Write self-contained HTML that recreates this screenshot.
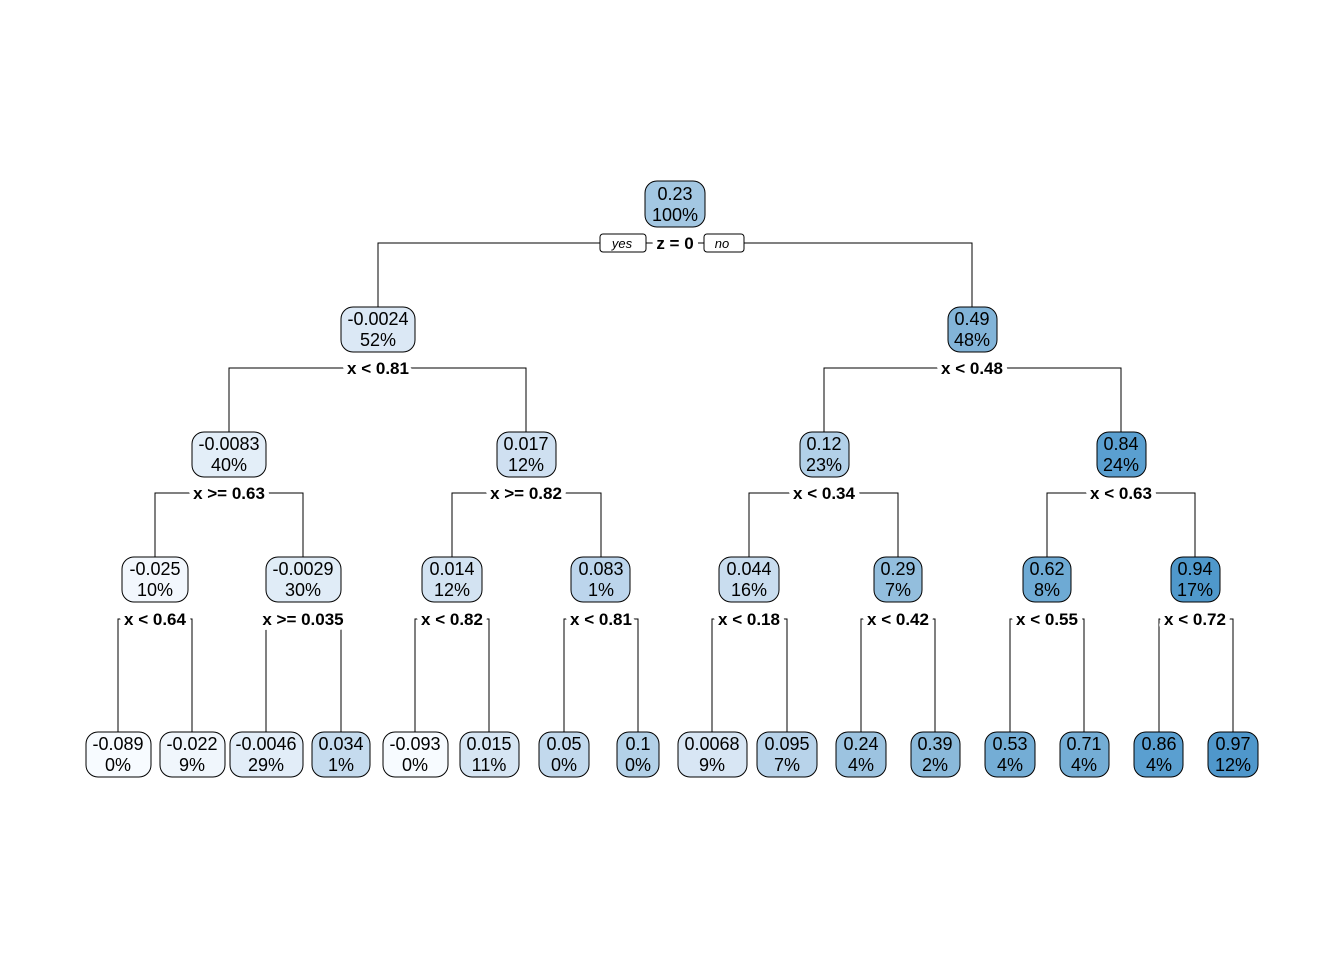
<!DOCTYPE html>
<html><head><meta charset="utf-8"><style>
html,body{margin:0;padding:0;background:#fff;}
svg{display:block;font-family:"Liberation Sans",Arial,sans-serif;}
.n{stroke:#000;stroke-width:1}
.t{font-size:18px;text-anchor:middle;fill:#000}
.s{font-size:17px;font-weight:bold;text-anchor:middle;fill:#000;stroke:#fff;stroke-width:10px;paint-order:stroke;stroke-linejoin:round}
.e{stroke:#000;stroke-width:1;fill:none}
</style></head><body>
<svg width="1344" height="960" viewBox="0 0 1344 960" xmlns="http://www.w3.org/2000/svg">
<g class="e">
<path d="M378 307V243H972V307"/>
<path d="M229 432V368H526V432"/>
<path d="M824 432V368H1121V432"/>
<path d="M155 557V493H303V557"/>
<path d="M452 557V493H601V557"/>
<path d="M749 557V493H898V557"/>
<path d="M1047 557V493H1195V557"/>
<path d="M118 732V619H192V732"/>
<path d="M266 732V619H341V732"/>
<path d="M415 732V619H489V732"/>
<path d="M564 732V619H638V732"/>
<path d="M712 732V619H787V732"/>
<path d="M861 732V619H935V732"/>
<path d="M1010 732V619H1084V732"/>
<path d="M1159 732V619H1233V732"/>
</g>
<text class="s" x="675" y="249">z = 0</text>
<text class="s" x="378" y="374">x &lt; 0.81</text>
<text class="s" x="972" y="374">x &lt; 0.48</text>
<text class="s" x="229" y="499">x &gt;= 0.63</text>
<text class="s" x="526" y="499">x &gt;= 0.82</text>
<text class="s" x="824" y="499">x &lt; 0.34</text>
<text class="s" x="1121" y="499">x &lt; 0.63</text>
<text class="s" x="155" y="625">x &lt; 0.64</text>
<text class="s" x="303" y="625">x &gt;= 0.035</text>
<text class="s" x="452" y="625">x &lt; 0.82</text>
<text class="s" x="601" y="625">x &lt; 0.81</text>
<text class="s" x="749" y="625">x &lt; 0.18</text>
<text class="s" x="898" y="625">x &lt; 0.42</text>
<text class="s" x="1047" y="625">x &lt; 0.55</text>
<text class="s" x="1195" y="625">x &lt; 0.72</text>
<path class="e" d="M646 243H652M698 243H704"/>
<rect x="600" y="234" width="46" height="18" rx="3" fill="#fff" class="n"/>
<text x="622" y="248" style="font-size:13px;font-style:italic;text-anchor:middle">yes</text>
<rect x="704" y="234" width="40" height="18" rx="3" fill="#fff" class="n"/>
<text x="722" y="248" style="font-size:13px;font-style:italic;text-anchor:middle">no</text>

<g>
<rect class="n" x="645" y="181" width="60" height="46" rx="12" fill="#a3c7e2"/><text class="t" x="675" y="200">0.23</text><text class="t" x="675" y="221">100%</text>

<rect class="n" x="341" y="307" width="74" height="45" rx="12" fill="#dbe8f5"/><text class="t" x="378" y="325">-0.0024</text><text class="t" x="378" y="346">52%</text>
<rect class="n" x="948" y="307" width="49" height="45" rx="12" fill="#82b4d8"/><text class="t" x="972" y="325">0.49</text><text class="t" x="972" y="346">48%</text>

<rect class="n" x="192" y="432" width="74" height="45" rx="12" fill="#e3eef8"/><text class="t" x="229" y="450">-0.0083</text><text class="t" x="229" y="471">40%</text>
<rect class="n" x="497" y="432" width="59" height="45" rx="12" fill="#cfe0f1"/><text class="t" x="526" y="450">0.017</text><text class="t" x="526" y="471">12%</text>
<rect class="n" x="800" y="432" width="49" height="45" rx="12" fill="#b2d0e8"/><text class="t" x="824" y="450">0.12</text><text class="t" x="824" y="471">23%</text>
<rect class="n" x="1097" y="432" width="49" height="45" rx="12" fill="#5a9fd0"/><text class="t" x="1121" y="450">0.84</text><text class="t" x="1121" y="471">24%</text>

<rect class="n" x="122" y="557" width="66" height="45" rx="12" fill="#f2f7fd"/><text class="t" x="155" y="575">-0.025</text><text class="t" x="155" y="596">10%</text>
<rect class="n" x="266" y="557" width="75" height="45" rx="12" fill="#e0ecf7"/><text class="t" x="303" y="575">-0.0029</text><text class="t" x="303" y="596">30%</text>
<rect class="n" x="422" y="557" width="60" height="45" rx="12" fill="#d3e3f2"/><text class="t" x="452" y="575">0.014</text><text class="t" x="452" y="596">12%</text>
<rect class="n" x="571" y="557" width="59" height="45" rx="12" fill="#bcd5ec"/><text class="t" x="601" y="575">0.083</text><text class="t" x="601" y="596">1%</text>
<rect class="n" x="719" y="557" width="60" height="45" rx="12" fill="#c9ddef"/><text class="t" x="749" y="575">0.044</text><text class="t" x="749" y="596">16%</text>
<rect class="n" x="874" y="557" width="48" height="45" rx="12" fill="#93bedd"/><text class="t" x="898" y="575">0.29</text><text class="t" x="898" y="596">7%</text>
<rect class="n" x="1023" y="557" width="48" height="45" rx="12" fill="#6eaad4"/><text class="t" x="1047" y="575">0.62</text><text class="t" x="1047" y="596">8%</text>
<rect class="n" x="1171" y="557" width="49" height="45" rx="12" fill="#4f98cb"/><text class="t" x="1195" y="575">0.94</text><text class="t" x="1195" y="596">17%</text>

<rect class="n" x="86" y="732" width="65" height="45" rx="12" fill="#f7fbff"/><text class="t" x="118" y="750">-0.089</text><text class="t" x="118" y="771">0%</text>
<rect class="n" x="160" y="732" width="65" height="45" rx="12" fill="#f0f6fc"/><text class="t" x="192" y="750">-0.022</text><text class="t" x="192" y="771">9%</text>
<rect class="n" x="230" y="732" width="73" height="45" rx="12" fill="#e2edf8"/><text class="t" x="266" y="750">-0.0046</text><text class="t" x="266" y="771">29%</text>
<rect class="n" x="312" y="732" width="58" height="45" rx="12" fill="#c5dbee"/><text class="t" x="341" y="750">0.034</text><text class="t" x="341" y="771">1%</text>
<rect class="n" x="383" y="732" width="65" height="45" rx="12" fill="#f7fbff"/><text class="t" x="415" y="750">-0.093</text><text class="t" x="415" y="771">0%</text>
<rect class="n" x="460" y="732" width="59" height="45" rx="12" fill="#d6e5f3"/><text class="t" x="489" y="750">0.015</text><text class="t" x="489" y="771">11%</text>
<rect class="n" x="539" y="732" width="50" height="45" rx="12" fill="#c2d9ed"/><text class="t" x="564" y="750">0.05</text><text class="t" x="564" y="771">0%</text>
<rect class="n" x="617" y="732" width="42" height="45" rx="12" fill="#b3d1e8"/><text class="t" x="638" y="750">0.1</text><text class="t" x="638" y="771">0%</text>
<rect class="n" x="678" y="732" width="69" height="45" rx="12" fill="#d8e6f4"/><text class="t" x="712" y="750">0.0068</text><text class="t" x="712" y="771">9%</text>
<rect class="n" x="757" y="732" width="60" height="45" rx="12" fill="#b8d3ea"/><text class="t" x="787" y="750">0.095</text><text class="t" x="787" y="771">7%</text>
<rect class="n" x="836" y="732" width="50" height="45" rx="12" fill="#9cc3e0"/><text class="t" x="861" y="750">0.24</text><text class="t" x="861" y="771">4%</text>
<rect class="n" x="911" y="732" width="49" height="45" rx="12" fill="#8ab9da"/><text class="t" x="935" y="750">0.39</text><text class="t" x="935" y="771">2%</text>
<rect class="n" x="985" y="732" width="50" height="45" rx="12" fill="#74add5"/><text class="t" x="1010" y="750">0.53</text><text class="t" x="1010" y="771">4%</text>
<rect class="n" x="1060" y="732" width="49" height="45" rx="12" fill="#74add5"/><text class="t" x="1084" y="750">0.71</text><text class="t" x="1084" y="771">4%</text>
<rect class="n" x="1134" y="732" width="49" height="45" rx="12" fill="#5a9fd0"/><text class="t" x="1159" y="750">0.86</text><text class="t" x="1159" y="771">4%</text>
<rect class="n" x="1208" y="732" width="50" height="45" rx="12" fill="#4f97cb"/><text class="t" x="1233" y="750">0.97</text><text class="t" x="1233" y="771">12%</text>
</g>
</svg>
</body></html>
